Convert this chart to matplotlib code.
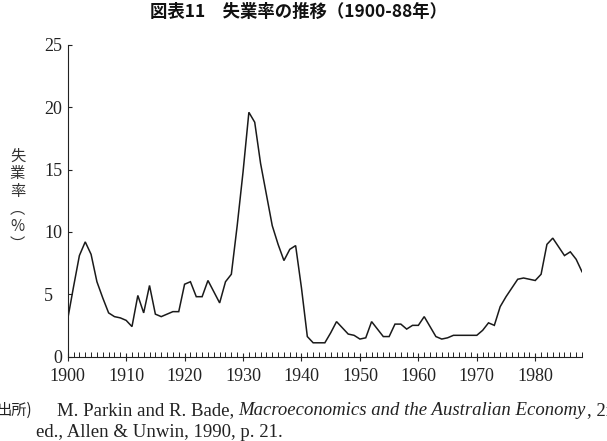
import matplotlib
matplotlib.use("Agg")
import matplotlib.pyplot as plt
from matplotlib.ticker import MultipleLocator

# ---- data -------------------------------------------------------------
years = list(range(1900, 1989))
rate = [3.0, 5.6, 8.1, 9.2, 8.2, 6.0, 4.7, 3.5, 3.2, 3.1,
        2.9, 2.4, 4.9, 3.5, 5.7, 3.4, 3.2, 3.4, 3.6, 3.6,
        5.8, 6.0, 4.8, 4.8, 6.1, 5.2, 4.3, 6.0, 6.6, 10.5,
        14.8, 19.6, 18.8, 15.5, 13.0, 10.5, 9.0, 7.7, 8.6, 8.9,
        5.5, 1.6, 1.1, 1.1, 1.1, 1.9, 2.8, 2.3, 1.8, 1.7,
        1.4, 1.5, 2.8, 2.2, 1.6, 1.6, 2.6, 2.6, 2.2, 2.5,
        2.5, 3.2, 2.4, 1.6, 1.4, 1.5, 1.7, 1.7, 1.7, 1.7,
        1.7, 2.1, 2.7, 2.5, 4.0, 4.8, 5.5, 6.2, 6.3, 6.2,
        6.1, 6.6, 9.0, 9.5, 8.8, 8.1, 8.4, 7.8, 6.8]
x_major = [1900, 1910, 1920, 1930, 1940, 1950, 1960, 1970, 1980]
x_labels = [str(v) for v in x_major]
y_ticks = [0, 5, 10, 15, 20, 25]
y_labels = ["0", "5  ", "10", "15", "20", "25"]

title = "図表11\u3000失業率の推移（1900-88年）"
ylabel_chars = ["失", "業", "率", "︵", "%", "︶"]
src_head = "出所)"
src_1a = "M. Parkin and R. Bade,"
src_1b = "Macroeconomics and the Australian Economy"
src_1c = ", 2nd"
src_2 = "ed., Allen & Unwin, 1990, p. 21."

# ---- figure -----------------------------------------------------------
W, H = 607, 441
fig = plt.figure(figsize=(W / 100, H / 100), dpi=100)
serif = ["Liberation Serif", "DejaVu Serif"]
cjk = ["Noto Sans CJK JP", "DejaVu Sans"]

x0, x1 = 67.7, 582.0
y0, y1 = 356.5, 45.0
ax = fig.add_axes([x0 / W, (H - y0) / H, (x1 - x0) / W, (y0 - y1) / H])
ax.plot(years, rate, color="#1a1a1a", lw=1.1, solid_joinstyle="miter")
ax.set_xlim(1900, 1988)
ax.set_ylim(0, 25)
for s in ["top", "right"]:
    ax.spines[s].set_visible(False)
for s in ["left", "bottom"]:
    ax.spines[s].set_linewidth(0.8)
    ax.spines[s].set_color("#222222")

ax.set_xticks(x_major)
ax.set_xticklabels(x_labels, family=serif, fontsize=13)
ax.xaxis.set_minor_locator(MultipleLocator(1))
ax.tick_params(axis="x", which="major", direction="inout", length=6,
               width=0.8, pad=5.5, colors="#222222")
ax.tick_params(axis="x", which="minor", direction="in", length=3.5,
               width=0.7, colors="#222222")
ax.set_yticks(y_ticks)
ax.set_yticklabels(y_labels, family=serif, fontsize=13)
ax.tick_params(axis="y", direction="in", length=3, width=0.8, pad=4,
               colors="#222222")

# title
fig.text(298 / W, 1 - 11.5 / H, title, ha="center", va="center",
         family=cjk, fontweight="bold", fontsize=12.5, color="#111111")

# vertical y label
fig.text(17.5 / W, 1 - 200 / H, "\n".join(ylabel_chars), ha="center",
         va="center", family=cjk, fontsize=11, linespacing=1.05,
         color="#333333")

# source notes
renderer = fig.canvas.get_renderer()


def put(x, y, s, **kw):
    t = fig.text(x / W, 1 - y / H, s, va="baseline", ha="left",
                 color="#222222", **kw)
    bb = t.get_window_extent(renderer)
    return bb.x1


fs = 13.5
put(-4, 415, src_head, family=cjk, fontsize=11)
xe = put(57, 415, src_1a, family=serif, fontsize=fs)
xe = put(xe + 4.5, 415, src_1b, family=serif, fontsize=fs, style="italic")
put(xe + 1, 415, src_1c, family=serif, fontsize=fs)
put(36, 437, src_2, family=serif, fontsize=fs)

fig.savefig("out.png", dpi=100)
